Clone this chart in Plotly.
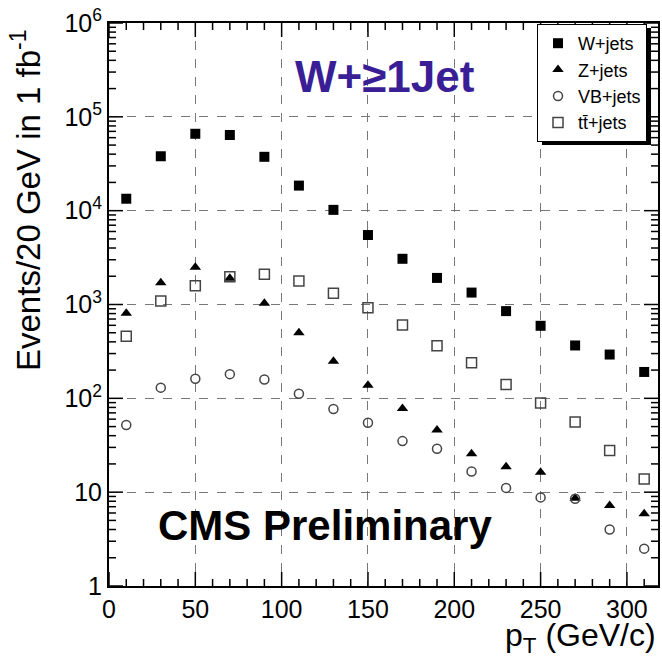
import math
import plotly.graph_objects as go

pt = [10, 30, 50, 70, 90, 110, 130, 150, 170, 190, 210, 230, 250, 270, 290, 310]
w_jets = [13400, 38000, 66000, 64000, 37500, 18500, 10200, 5500, 3070, 1920, 1340, 850, 593, 366, 293, 191]
z_jets = [805, 1710, 2500, 1900, 1030, 500, 249, 138, 78, 46, 25.6, 18.7, 16.3, 8.6, 7.2, 5.9]
vb_jets = [52, 130, 162, 181, 159, 112, 77, 55, 35, 29, 16.6, 11.1, 8.8, 8.5, 4.0, 2.5]
tt_jets = [460, 1090, 1580, 1980, 2100, 1780, 1320, 925, 603, 363, 239, 140, 89, 56, 27.8, 13.8]

y_tickvals = [1, 10, 100, 1000, 10000, 100000, 1000000]
y_ticktext = ["1", "10", "10<sup>2</sup>", "10<sup>3</sup>", "10<sup>4</sup>", "10<sup>5</sup>", "10<sup>6</sup>"]
x_tickvals = [0, 50, 100, 150, 200, 250, 300]

X_RANGE = [0, 318]
Y_RANGE = [0, 6]  # log10 range

FONT = "Liberation Sans, Arial, Helvetica, sans-serif"

fig = go.Figure()
fig.add_trace(go.Scatter(x=pt, y=w_jets, mode="markers", name="W+jets",
                         marker=dict(symbol="square", size=10, color="black")))
fig.add_trace(go.Scatter(x=pt, y=z_jets, mode="markers", name="Z+jets",
                         marker=dict(symbol="triangle-up", size=10, color="black")))
fig.add_trace(go.Scatter(x=pt, y=vb_jets, mode="markers", name="VB+jets",
                         marker=dict(symbol="circle-open", size=9, color="#444",
                                     line=dict(width=1.5, color="#444"))))
fig.add_trace(go.Scatter(x=pt, y=tt_jets, mode="markers", name="tt\u0304+jets",
                         marker=dict(symbol="square-open", size=10, color="#444",
                                     line=dict(width=1.5, color="#444"))))

L, R, T, B = 109, 4, 23, 75
W, H = 662, 661
pw, ph = W - L - R, H - T - B

def px(x):
    return (x - L) / pw

def py(y):
    return (H - B - y) / ph

fig.update_layout(
    template="none",
    width=W, height=H, autosize=False,
    margin=dict(l=L, r=R, t=T, b=B, pad=0),
    paper_bgcolor="white", plot_bgcolor="white",
    font=dict(family=FONT, color="black"),
    showlegend=True,
    legend=dict(x=px(647), y=py(24), xanchor="right", yanchor="top",
                bgcolor="white", bordercolor="black", borderwidth=1,
                font=dict(size=18, family=FONT), itemwidth=30, tracegroupgap=0),
    xaxis=dict(range=X_RANGE, automargin=False, showline=True, linewidth=2, linecolor="black",
               mirror=True, ticks="", tickvals=x_tickvals,
               showgrid=True, gridcolor="#777", griddash="dash", gridwidth=1,
               zeroline=False, tickfont=dict(size=25, family=FONT)),
    yaxis=dict(type="log", range=Y_RANGE, automargin=False, showline=True, linewidth=2,
               linecolor="black", mirror=True, ticks="",
               tickvals=y_tickvals, ticktext=y_ticktext,
               showgrid=True, gridcolor="#777", griddash="dash", gridwidth=1,
               zeroline=False, tickfont=dict(size=25, family=FONT)),
)

# tick marks (inside, on all four sides), drawn as shapes
MAJ, MIN = 14, 7
tick_line = dict(color="black", width=1.5)
for v in range(X_RANGE[0], int(X_RANGE[1]) + 1, 10):
    ln = MAJ if v % 50 == 0 else MIN
    for y0, y1 in ((0, ln / ph), (1, 1 - ln / ph)):
        fig.add_shape(type="line", xref="x", yref="paper", x0=v, x1=v, y0=y0, y1=y1,
                      line=tick_line, layer="above")
for d in range(Y_RANGE[0], Y_RANGE[1] + 1):
    for m in range(1, 10):
        if d == Y_RANGE[1] and m > 1:
            break
        pos = (d + math.log10(m) - Y_RANGE[0]) / (Y_RANGE[1] - Y_RANGE[0])
        ln = MAJ if m == 1 else MIN
        for x0, x1 in ((0, ln / pw), (1, 1 - ln / pw)):
            fig.add_shape(type="line", xref="paper", yref="paper", x0=x0, x1=x1, y0=pos, y1=pos,
                          line=tick_line, layer="above")

# legend shadow
fig.add_shape(type="rect", xref="paper", yref="paper",
              x0=px(542), x1=px(651), y0=py(145), y1=py(28),
              fillcolor="black", line=dict(width=0), layer="above")

fig.add_annotation(text="<b>W+≥1Jet</b>", xref="paper", yref="paper",
                   x=px(385), y=py(77), xanchor="center", yanchor="middle", showarrow=False,
                   font=dict(size=44, color="#3a1e96", family=FONT))
fig.add_annotation(text="<b>CMS Preliminary</b>", xref="paper", yref="paper",
                   x=px(325), y=py(525), xanchor="center", yanchor="middle", showarrow=False,
                   font=dict(size=42, color="black", family=FONT))
fig.add_annotation(text="p<sub>T</sub> (GeV/c)", xref="paper", yref="paper",
                   x=px(658), y=py(637), xanchor="right", yanchor="middle", showarrow=False,
                   font=dict(size=32, color="black", family=FONT))
fig.add_annotation(text="Events/20 GeV in 1 fb<sup>-1</sup>", xref="paper", yref="paper",
                   x=px(26), y=py(200), xanchor="center", yanchor="middle", showarrow=False,
                   textangle=-90, font=dict(size=33, color="black", family=FONT))

fig.write_html("out.html", config={"displayModeBar": False},
               post_script="document.body.style.margin='0';document.body.style.overflow='hidden';")
